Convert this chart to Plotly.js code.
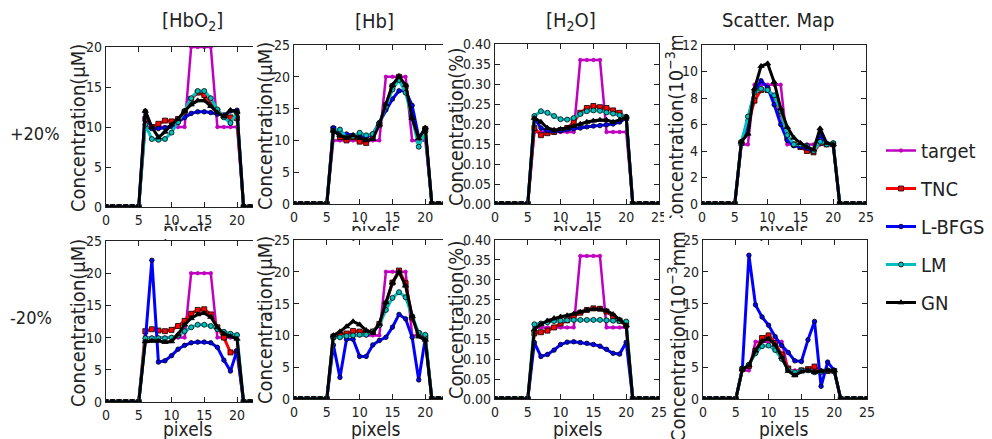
<!DOCTYPE html>
<html><head><meta charset="utf-8">
<script src="https://cdn.plot.ly/plotly-3.0.1.min.js"></script>
<style>html,body{margin:0;padding:0;background:#fff;}#chart{width:992px;height:439px;}</style>
</head><body><div id="chart"></div>
<script>
// ---------- data ----------
const pixels = [0,1,2,3,4,5,6,7,8,9,10,11,12,13,14,15,16,17,18,19,20,21,22,23,24,25];
const seriesNames = ['target','TNC','L-BFGS','LM','GN'];
const columnTitles = ['[HbO<sub>2</sub>]','[Hb]','[H<sub>2</sub>O]','Scatter. Map'];
const rowLabels = ['+20%','-20%'];
const yLabels = ['Concentration(\u03bcM)','Concentration(\u03bcM)','Concentration(%)','Concentration(10<sup>\u22123</sup>mm<sup>\u22121</sup>)'];

// targets per column
const targetHbO2 = [0,0,0,0,0,0,10,10,10,10,10,10,10,20,20,20,20,10,10,10,10,0,0,0,0,0];
const targetHb   = [0,0,0,0,0,0,10,10,10,10,10,10,10,10,20,20,20,20,10,10,10,0,0,0,0,0];
const targetH2O  = [0,0,0,0,0,0,0.18,0.18,0.18,0.18,0.18,0.18,0.18,0.36,0.36,0.36,0.36,0.18,0.18,0.18,0.18,0,0,0,0,0];
const targetScat = [0,0,0,0,0,0,4.5,4.5,9,9,9,9,9,4.5,4.5,4.5,4.5,4.5,4.5,4.5,4.5,0,0,0,0,0];

// +20% row
const p1_TNC   = [0,0,0,0,0,0,11.0,10.0,10.4,10.8,10.7,11.0,11.9,13.5,14.3,14.0,12.8,12.0,11.4,11.2,11.1,0,0,0,0,0];
const p1_LBFGS = [0,0,0,0,0,0,12.0,9.8,9.8,9.9,10.1,10.6,11.2,11.7,11.9,11.9,11.8,11.6,11.5,12.0,12.1,0,0,0,0,0];
const p1_LM    = [0,0,0,0,0,0,10.3,8.5,8.4,8.5,9.3,10.6,12.0,13.6,14.5,14.5,13.6,12.2,11.2,10.5,11.8,0,0,0,0,0];
const p1_GN    = [0,0,0,0,0,0,12.0,10.0,8.7,9.4,10.3,11.0,12.0,12.8,13.3,13.3,12.6,11.8,11.3,12.1,11.9,0,0,0,0,0];

const p2_TNC   = [0,0,0,0,0,0,11.8,10.5,10.0,10.5,9.8,9.6,10.5,12.5,15.5,18.5,20.0,18.5,13.8,10.0,11.8,0,0,0,0,0];
const p2_LBFGS = [0,0,0,0,0,0,12.0,10.8,11.0,10.8,10.7,10.5,11.0,12.8,14.8,16.5,17.8,17.8,15.5,10.5,11.5,0,0,0,0,0];
const p2_LM    = [0,0,0,0,0,0,11.5,11.7,10.5,10.6,11.2,10.8,11.0,12.6,15.3,18.0,19.5,17.5,13.5,9.0,11.4,0,0,0,0,0];
const p2_GN    = [0,0,0,0,0,0,11.5,10.8,10.4,10.8,10.4,10.0,10.2,12.5,15.7,18.7,20.1,18.7,13.5,10.3,12.0,0,0,0,0,0];

const p3_TNC   = [0,0,0,0,0,0,0.190,0.172,0.177,0.180,0.185,0.190,0.205,0.228,0.240,0.245,0.242,0.240,0.234,0.228,0.215,0,0,0,0,0];
const p3_LBFGS = [0,0,0,0,0,0,0.215,0.190,0.183,0.182,0.183,0.186,0.188,0.190,0.193,0.195,0.196,0.198,0.200,0.205,0.215,0,0,0,0,0];
const p3_LM    = [0,0,0,0,0,0,0.220,0.232,0.228,0.220,0.212,0.211,0.215,0.225,0.232,0.234,0.233,0.229,0.226,0.222,0.218,0,0,0,0,0];
const p3_GN    = [0,0,0,0,0,0,0.215,0.205,0.190,0.185,0.187,0.190,0.195,0.200,0.205,0.208,0.210,0.210,0.205,0.210,0.218,0,0,0,0,0];

const p4_TNC   = [0,0,0,0,0,0,4.6,6.0,7.8,8.6,8.6,8.1,6.8,5.0,4.5,4.3,4.0,3.9,4.6,4.5,4.5,0,0,0,0,0];
const p4_LBFGS = [0,0,0,0,0,0,4.6,6.3,8.5,9.3,8.8,7.5,6.0,4.8,4.4,4.3,4.2,4.0,5.2,4.5,4.5,0,0,0,0,0];
const p4_LM    = [0,0,0,0,0,0,4.7,6.6,8.4,8.7,8.6,8.2,7.0,5.2,4.5,4.5,4.4,4.0,4.7,4.5,4.6,0,0,0,0,0];
const p4_GN    = [0,0,0,0,0,0,4.7,5.3,8.7,10.4,10.6,9.2,7.2,5.8,5.0,4.6,4.3,4.1,5.7,4.6,4.5,0,0,0,0,0];

// -20% row
const p5_TNC   = [0,0,0,0,0,0,11.0,11.3,11.1,11.0,11.2,11.8,12.6,13.7,14.3,14.4,13.6,11.6,10.0,7.7,7.8,0,0,0,0,0];
const p5_LBFGS = [0,0,0,0,0,0,9.5,22.0,6.2,6.4,7.2,8.2,8.8,9.2,9.3,9.3,9.2,8.5,6.5,4.8,8.0,0,0,0,0,0];
const p5_LM    = [0,0,0,0,0,0,9.9,9.9,9.9,9.9,10.0,10.3,11.0,11.6,12.0,12.0,11.8,11.3,10.9,10.6,10.4,0,0,0,0,0];
const p5_GN    = [0,0,0,0,0,0,9.4,9.5,9.5,9.3,9.4,10.5,12.0,13.0,13.6,13.8,13.2,11.6,10.6,10.2,9.8,0,0,0,0,0];

const p6_TNC   = [0,0,0,0,0,0,9.8,10.0,10.3,10.7,10.6,10.5,10.6,11.8,15.0,18.3,20.2,18.2,12.8,10.3,9.7,0,0,0,0,0];
const p6_LBFGS = [0,0,0,0,0,0,8.5,3.4,9.4,9.4,6.7,6.7,8.5,9.2,9.7,11.3,13.3,12.6,9.7,3.0,9.5,0,0,0,0,0];
const p6_LM    = [0,0,0,0,0,0,9.7,9.7,9.9,10.0,10.1,10.1,10.6,11.6,14.0,15.9,16.8,16.0,13.0,10.4,10.1,0,0,0,0,0];
const p6_GN    = [0,0,0,0,0,0,10.0,10.6,11.4,12.2,11.7,10.8,10.4,11.8,15.2,18.3,20.0,17.8,13.0,9.8,9.3,0,0,0,0,0];

const p7_TNC   = [0,0,0,0,0,0,0.165,0.168,0.172,0.180,0.190,0.198,0.208,0.217,0.224,0.228,0.227,0.220,0.208,0.197,0.185,0,0,0,0,0];
const p7_LBFGS = [0,0,0,0,0,0,0.142,0.107,0.112,0.123,0.137,0.143,0.144,0.142,0.140,0.137,0.133,0.125,0.115,0.113,0.143,0,0,0,0,0];
const p7_LM    = [0,0,0,0,0,0,0.188,0.190,0.193,0.196,0.197,0.198,0.199,0.199,0.199,0.199,0.199,0.198,0.197,0.196,0.195,0,0,0,0,0];
const p7_GN    = [0,0,0,0,0,0,0.175,0.188,0.197,0.203,0.207,0.210,0.214,0.219,0.224,0.226,0.226,0.222,0.213,0.200,0.185,0,0,0,0,0];

const p8_TNC   = [0,0,0,0,0,0,4.7,5.2,7.6,9.6,10.0,8.8,7.0,4.8,4.0,4.5,4.7,5.1,4.3,4.4,4.4,0,0,0,0,0];
const p8_LBFGS = [0,0,0,0,0,0,4.8,22.6,14.8,12.9,11.6,9.8,8.4,7.3,6.0,5.9,9.3,12.2,2.0,5.8,4.5,0,0,0,0,0];
const p8_LM    = [0,0,0,0,0,0,4.7,5.4,7.2,8.3,8.4,7.7,6.3,4.6,4.2,4.5,4.5,4.2,4.3,4.5,4.4,0,0,0,0,0];
const p8_GN    = [0,0,0,0,0,0,4.7,5.3,7.6,9.1,9.5,8.5,6.6,4.4,3.7,4.3,4.5,4.2,4.4,4.5,4.5,0,0,0,0,0];

const yTickMax  = [20, 25, 0.40, 12, 25, 25, 0.40, 25];
const yTickStep = [5, 5, 0.05, 2, 5, 5, 0.05, 5];

// ---------- build ----------
const W = 992, H = 439;
const FONT = 'DejaVu Sans Condensed, DejaVu Sans, sans-serif';
const fx = p => p / W, fy = p => 1 - p / H;

const panels = [
  {t: targetHbO2, s: [p1_TNC, p1_LBFGS, p1_LM, p1_GN]},
  {t: targetHb,   s: [p2_TNC, p2_LBFGS, p2_LM, p2_GN]},
  {t: targetH2O,  s: [p3_TNC, p3_LBFGS, p3_LM, p3_GN]},
  {t: targetScat, s: [p4_TNC, p4_LBFGS, p4_LM, p4_GN]},
  {t: targetHbO2, s: [p5_TNC, p5_LBFGS, p5_LM, p5_GN]},
  {t: targetHb,   s: [p6_TNC, p6_LBFGS, p6_LM, p6_GN]},
  {t: targetH2O,  s: [p7_TNC, p7_LBFGS, p7_LM, p7_GN]},
  {t: targetScat, s: [p8_TNC, p8_LBFGS, p8_LM, p8_GN]}
];
// pixel boxes: [left, right, top, bottom, visible x max, full frame]
const boxes = [
  [106, 253, 47, 207, 22.44, false],
  [294, 443, 45, 204, 22.7, false],
  [495, 659, 44, 204, 25, true],
  [702, 866, 45, 204, 25, true],
  [106, 253, 241, 402, 22.44, false],
  [294, 443, 240, 399, 22.7, false],
  [495, 659, 240, 399, 25, true],
  [703, 867, 240, 399, 25, true]
];

const styles = [
  {color: '#c000c0', width: 2.5, sym: 'circle', size: 3.5, edge: '#c000c0'},
  {color: '#ff0000', width: 3, sym: 'square', size: 5, edge: '#000'},
  {color: '#0000ff', width: 3, sym: 'circle', size: 4.5, edge: '#000'},
  {color: '#00bfbf', width: 3, sym: 'circle', size: 5, edge: '#000'},
  {color: '#000000', width: 3, sym: 'triangle-up', size: 5.5, edge: '#000'}
];

const data = [];
const layout = {
  width: W, height: H,
  margin: {l: 0, r: 0, t: 0, b: 0},
  paper_bgcolor: '#fff', plot_bgcolor: '#fff',
  font: {family: FONT, color: '#222'},
  showlegend: true,
  legend: {x: fx(881), y: fy(131), xanchor: 'left', yanchor: 'top',
           font: {family: FONT, size: 20, color: '#222'}, tracegroupgap: 9,
           bgcolor: 'rgba(0,0,0,0)', itemwidth: 30},
  annotations: []
};

panels.forEach((p, i) => {
  const n = i + 1, ax = n === 1 ? '' : String(n);
  const b = boxes[i];
  const all = [p.t].concat(p.s);
  all.forEach((ys, k) => {
    const st = styles[k];
    data.push({
      type: 'scatter', mode: 'lines+markers',
      x: pixels, y: ys, xaxis: 'x' + ax, yaxis: 'y' + ax,
      name: seriesNames[k], legendgroup: seriesNames[k], showlegend: i === 0,
      line: {color: st.color, width: st.width},
      marker: {symbol: st.sym, size: st.size, color: st.color, line: {color: st.edge, width: 0.8}},
      hoverinfo: 'skip'
    });
  });
  const common = {showline: true, linecolor: '#222', linewidth: 1.2, ticks: 'inside', ticklen: 5,
                  tickwidth: 1, tickcolor: '#222', showgrid: false, zeroline: false,
                  tickfont: {family: FONT, size: 14, color: '#222'}, fixedrange: true};
  layout['xaxis' + ax] = Object.assign({}, common, {
    domain: [fx(b[0]), fx(b[1])], range: [0, b[4]], anchor: 'y' + ax,
    tick0: 0, dtick: 5, mirror: 'ticks'
  });
  layout['yaxis' + ax] = Object.assign({}, common, {
    domain: [fy(b[3]), fy(b[2])], range: [0, yTickMax[i]], anchor: 'x' + ax,
    tick0: 0, dtick: yTickStep[i], mirror: b[5] ? 'ticks' : false,
    tickformat: yTickMax[i] < 1 ? '.2f' : ''
  });
});

const A = layout.annotations;
function txt(text, x, y, size, opts) {
  A.push(Object.assign({text: text, x: fx(x), y: fy(y), xref: 'paper', yref: 'paper', showarrow: false,
    xanchor: 'center', yanchor: 'middle', font: {family: FONT, size: size, color: '#222'}}, opts || {}));
}
function wbox(x0, x1, y0, y1) {
  A.push({text: ' ', x: fx(x0), y: fy(y0), xref: 'paper', yref: 'paper', showarrow: false,
    xanchor: 'left', yanchor: 'top', width: x1 - x0, height: y1 - y0, bgcolor: '#fff',
    borderpad: 0, borderwidth: 0, font: {size: 4}});
}
// clipped Scatter-map y labels
txt(yLabels[3], 677, 444, 20, {textangle: -90, yanchor: 'bottom'});
wbox(664, 690, 180, 229);
txt(yLabels[3], 675, 229, 20, {textangle: -90, yanchor: 'bottom'});
wbox(664, 690, 218, 230);
wbox(655, 700, 0, 36);
// top-row x labels (partly hidden by lower row)
[187, 375, 577, 783].forEach(x => txt('pixels', x, 217, 19, {yanchor: 'top'}));
[[150, 225], [340, 410], [540, 615], [748, 818]].forEach(r => wbox(r[0], r[1], 231, 239));
// other y labels
txt(yLabels[0], 78, 128, 20, {textangle: -90});
txt(yLabels[1], 265, 126, 20, {textangle: -90});
txt(yLabels[2], 456, 127, 20, {textangle: -90});
txt(yLabels[0], 78, 323, 20, {textangle: -90});
txt(yLabels[1], 265, 320, 20, {textangle: -90});
txt(yLabels[2], 456, 320, 20, {textangle: -90});
// bottom-row x labels
[187, 375, 577, 783].forEach(x => txt('pixels', x, 416, 19, {yanchor: 'top'}));
// column titles and row labels
txt(columnTitles[0], 192, 21, 20);
txt(columnTitles[1], 374, 21, 20);
txt(columnTitles[2], 571, 21, 20);
txt(columnTitles[3], 778, 20, 20);
txt(rowLabels[0], 35, 133, 18);
txt(rowLabels[1], 31, 317, 18);

Plotly.newPlot('chart', data, layout, {staticPlot: true, displayModeBar: false});
</script></body></html>
